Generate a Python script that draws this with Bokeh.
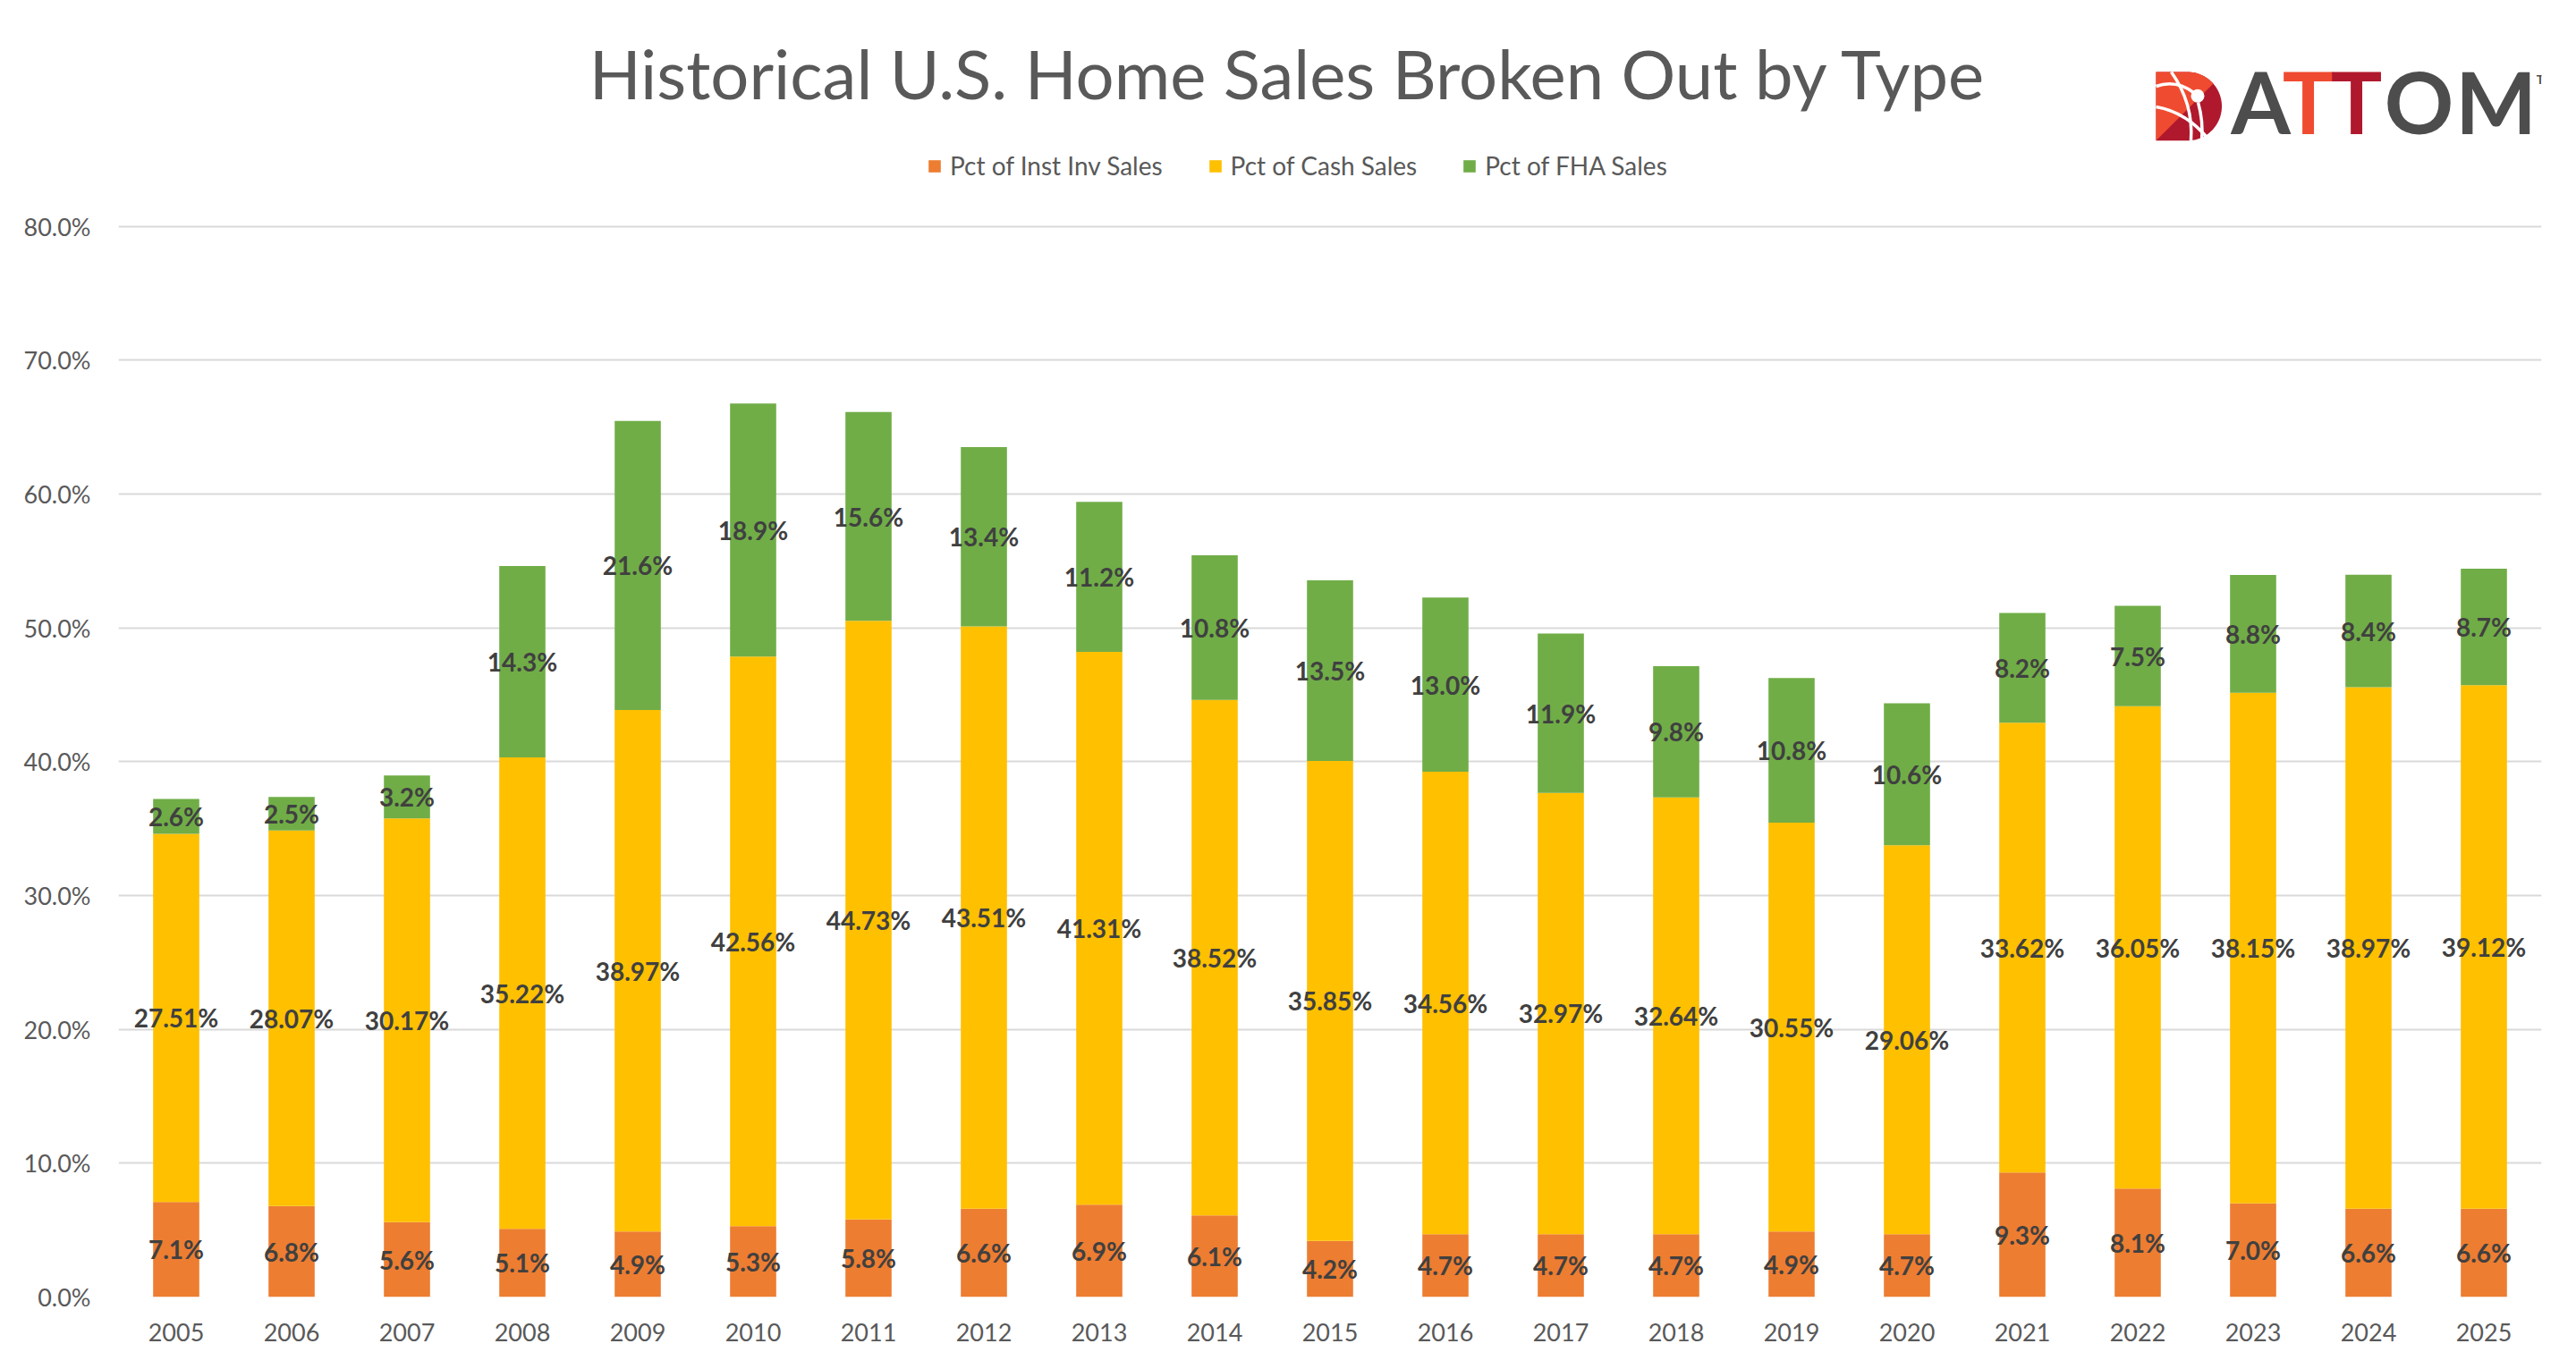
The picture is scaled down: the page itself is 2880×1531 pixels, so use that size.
import numpy as np
from bokeh.plotting import figure
from bokeh.models import (Range1d, FixedTicker, Legend, LegendItem, ColumnDataSource,
                          Label, PrintfTickFormatter)
from bokeh.core.properties import value
from bokeh.embed import file_html
from bokeh.resources import INLINE

# ---------------- data ----------------
years = [str(y) for y in range(2005, 2026)]
inst_inv = [7.1, 6.8, 5.6, 5.1, 4.9, 5.3, 5.8, 6.6, 6.9, 6.1, 4.2,
            4.7, 4.7, 4.7, 4.9, 4.7, 9.3, 8.1, 7.0, 6.6, 6.6]
cash = [27.51, 28.07, 30.17, 35.22, 38.97, 42.56, 44.73, 43.51, 41.31, 38.52, 35.85,
        34.56, 32.97, 32.64, 30.55, 29.06, 33.62, 36.05, 38.15, 38.97, 39.12]
fha = [2.6, 2.5, 3.2, 14.3, 21.6, 18.9, 15.6, 13.4, 11.2, 10.8, 13.5,
       13.0, 11.9, 9.8, 10.8, 10.6, 8.2, 7.5, 8.8, 8.4, 8.7]
series_names = ["Pct of Inst Inv Sales", "Pct of Cash Sales", "Pct of FHA Sales"]
series_colors = ["#ED7D31", "#FFC000", "#70AD47"]
y_ticks = [0, 10, 20, 30, 40, 50, 60, 70, 80]
title_text = "Historical U.S. Home Sales Broken Out by Type"

# ---------------- layout ----------------
W, H = 2864, 1515
BL, BR, BB, BT = 132, 23, 65, 0
frame_w = W - BL - BR
frame_h = H - BB - BT
px_per_unit = (frame_h - 252.7) / 80.0
y_top = frame_h / px_per_unit
n = len(years)
px_per_cat = frame_w / n

FONT = "Lato"
GRAY = "#595959"

p = figure(x_range=Range1d(-0.5, n - 0.5), y_range=Range1d(0, y_top), width=W, height=H,
           output_backend="svg", toolbar_location=None,
           min_border_left=BL, min_border_right=BR, min_border_bottom=BB, min_border_top=BT,
           outline_line_color=None, background_fill_color="white", border_fill_color="white")

idx = list(range(n))
src = ColumnDataSource(dict(i=idx, year=years, inst=inst_inv, cash=cash, fha=fha))
rends = p.vbar_stack(["inst", "cash", "fha"], x="i", width=0.4, color=series_colors,
                     line_color=None, source=src)

# data labels at segment centres
lx, ly, lt = [], [], []
for k, a, b, c in zip(idx, inst_inv, cash, fha):
    lx += [k, k, k]
    ly += [a / 2.0, a + b / 2.0, a + b + c / 2.0]
    lt += [f"{a:.1f}%", f"{b:.2f}%", f"{c:.1f}%"]
p.text(x=lx, y=ly, text=lt, text_align="center", text_baseline="middle",
       text_font=value(FONT), text_font_style="bold", text_font_size="28px",
       text_color="#404040")

# axes & grid
p.xaxis.ticker = FixedTicker(ticks=idx)
p.xaxis.major_label_overrides = {k: y for k, y in zip(idx, years)}
p.yaxis.ticker = FixedTicker(ticks=y_ticks)
p.ygrid.ticker = FixedTicker(ticks=y_ticks)
p.yaxis.formatter = PrintfTickFormatter(format="%.1f%%")
for ax in (p.xaxis, p.yaxis):
    ax.axis_line_color = None
    ax.major_tick_line_color = None
    ax.minor_tick_line_color = None
    ax.major_tick_out = 0
    ax.major_tick_in = 0
    ax.minor_tick_out = 0
    ax.minor_tick_in = 0
    ax.major_label_text_font = FONT
    ax.major_label_text_font_size = "27px"
    ax.major_label_text_color = GRAY
p.yaxis.major_label_standoff = 31
p.xaxis.major_label_standoff = 29
p.xgrid.grid_line_color = None
p.ygrid.grid_line_color = "#D9D9D9"
p.ygrid.grid_line_width = 2

# legend
legend = Legend(items=[LegendItem(label=nm, renderers=[r]) for nm, r in zip(series_names, rends)],
                orientation="horizontal", location=(904, 1450 - 202),
                glyph_width=17, glyph_height=17, label_standoff=9, spacing=50,
                padding=0, margin=0, border_line_color=None, background_fill_alpha=0,
                label_text_font=FONT, label_text_font_size="28px", label_text_color=GRAY)
p.add_layout(legend)

# title (vertically centred on its capitals)
p.add_layout(Label(x=1440 - 132, y=1450 - 80.5, x_units="screen", y_units="screen",
                   text=title_text, text_align="center", text_baseline="middle",
                   text_font=FONT, text_font_size="76px", text_color=GRAY))

# ---------------- ATTOM logo (decoration; reference pixels -> plot coords) ----------------
def sx(X):
    return (np.asarray(X, dtype=float) - 132) / px_per_cat - 0.5

def sy(Y):
    return (1450 - np.asarray(Y, dtype=float)) / px_per_unit

RED, ORANGE, DARK = "#B0182D", "#EF4B30", "#4D4D4D"
left, top, bottom = 2410.0, 80.0, 156.8
cx, cy, r = 2445.1, 118.4, 38.4
t_full = np.radians(np.linspace(90, -90, 60))
DX = [left, left, cx] + list(cx + r * np.cos(t_full)) + [left]
DY = [bottom, top, top] + list(cy - r * np.sin(t_full)) + [bottom]
p.patch(list(sx(DX)), list(sy(DY)), color=RED, line_color=None)
t_or = np.radians(np.linspace(90, 41.2, 30))
OX = [left, left, cx] + list(cx + r * np.cos(t_or)) + [left]
OY = [bottom, top, top] + list(cy - r * np.sin(t_or)) + [bottom]
p.patch(list(sx(OX)), list(sy(OY)), color=ORANGE, line_color=None)
curves = [  # x0, y0, cx, cy, x1, y1
    (2410, 96, 2432, 88, 2452, 103),
    (2410, 119, 2445, 125, 2470, 157),
    (2427, 80, 2452, 115, 2449, 157),
    (2457, 114, 2463, 135, 2461, 157),
]
for (x0, y0, qx, qy, x1, y1) in curves:
    p.quadratic(x0=[float(sx(x0))], y0=[float(sy(y0))], x1=[float(sx(x1))], y1=[float(sy(y1))],
                cx=[float(sx(qx))], cy=[float(sy(qy))], line_color="white", line_width=3.5)
p.scatter(x=[float(sx(2456.5))], y=[float(sy(106.7))], size=15, color="white", line_color=None)
letters = ["A", "T", "T", "O", "M"]
letter_x = [2527, 2580, 2634, 2704, 2790]
letter_c = [DARK, ORANGE, RED, DARK, DARK]
for ch, X, col in zip(letters, letter_x, letter_c):
    p.text(x=[float(sx(X))], y=[float(sy(112))], text=[ch], text_color=col,
           text_align="center", text_baseline="middle",
           text_font=value(FONT), text_font_style="bold", text_font_size="96px")
p.add_layout(Label(x=2846 - 132, y=1450 - 88, x_units="screen", y_units="screen",
                   text="TM", text_align="center", text_baseline="middle",
                   text_font=FONT, text_font_style="bold", text_font_size="14px",
                   text_color=DARK))

open("out.html", "w").write(file_html(p, INLINE))
